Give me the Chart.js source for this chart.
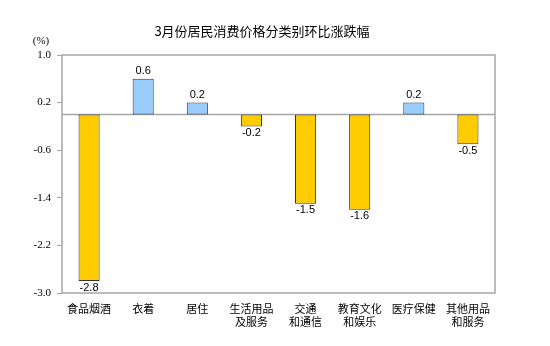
<!DOCTYPE html>
<html>
<head>
<meta charset="utf-8">
<script src="https://cdn.jsdelivr.net/npm/chart.js@4.4.0/dist/chart.umd.min.js"></script>
<style>
  html,body{margin:0;padding:0;background:#fff;}
  #wrap{width:550px;height:346px;position:relative;}
</style>
</head>
<body>
<div id="wrap"><canvas id="myChart" width="550" height="346"></canvas></div>
<script>
//---------- data ----------
const categories=[["食品烟酒"],["衣着"],["居住"],["生活用品","及服务"],["交通","和通信"],["教育文化","和娱乐"],["医疗保健"],["其他用品","和服务"]];
const values=[-2.8,0.6,0.2,-0.2,-1.5,-1.6,0.2,-0.5];
const yTicks=[-3.0,-2.2,-1.4,-0.6,0.2,1.0];
const chartTitle="3月份居民消费价格分类别环比涨跌幅";
const unitLabel="(%)";

const upColor='#99CCFF';
const downColor='#FFCC00';
const cjkFont='"Noto Sans CJK SC", "Noto Sans", sans-serif';

// frame, zero line, title and value labels
const decorPlugin={
  id:'decor',
  beforeDatasetsDraw(chart){
    const {ctx,chartArea,scales}=chart;
    const y0=scales.y.getPixelForValue(0);
    ctx.save();
    ctx.strokeStyle='#a6a6a6';
    ctx.lineWidth=1.5;
    ctx.strokeRect(chartArea.left,chartArea.top,chartArea.right-chartArea.left,chartArea.bottom-chartArea.top);
    ctx.beginPath();
    ctx.moveTo(chartArea.left,y0);
    ctx.lineTo(chartArea.right,y0);
    ctx.stroke();
    ctx.restore();
  },
  afterDraw(chart){
    const {ctx}=chart;
    ctx.save();
    ctx.fillStyle='#000';
    ctx.font='13px '+cjkFont;
    ctx.textAlign='center';
    ctx.textBaseline='middle';
    ctx.fillText(chartTitle,262,31);
    ctx.font='11px "Liberation Serif", serif';
    ctx.fillText(unitLabel,41,41);
    // value labels
    ctx.font='11px "Liberation Sans", Arial, sans-serif';
    const meta=chart.getDatasetMeta(0);
    meta.data.forEach((bar,i)=>{
      const v=values[i];
      const txt=v.toFixed(1);
      if(v>=0){
        ctx.textBaseline='bottom';
        ctx.fillText(txt,bar.x,bar.y-2);
      }else{
        ctx.textBaseline='top';
        ctx.fillText(txt,bar.x,bar.y+1);
      }
    });
    ctx.restore();
  }
};

const ctx=document.getElementById('myChart');
const chart=new Chart(ctx,{
  type:'bar',
  data:{
    labels:categories,
    datasets:[{
      data:values,
      backgroundColor:values.map(v=>v>=0?upColor:downColor),
      borderColor:'#333333',
      borderWidth:1,
      borderSkipped:false,
      barPercentage:0.39,
      categoryPercentage:1
    }]
  },
  options:{
    responsive:false,
    animation:false,
    layout:{padding:{top:55,right:55,left:0,bottom:0}},
    plugins:{legend:{display:false},tooltip:{enabled:false}},
    scales:{
      x:{
        grid:{display:false,drawTicks:false},
        border:{display:false},
        ticks:{color:'#000',font:{family:cjkFont,size:11,lineHeight:1.2},padding:9,maxRotation:0,autoSkip:false},
        afterFit(scale){scale.height=53;}
      },
      y:{
        min:-3,
        max:1,
        afterBuildTicks(scale){scale.ticks=yTicks.map(v=>({value:v}));},
        grid:{drawOnChartArea:false,tickLength:5,color:'#a6a6a6',lineWidth:1},
        border:{display:false},
        ticks:{
          color:'#000',
          padding:6,
          font:{family:'"Liberation Serif", serif',size:11},
          callback:(v)=>Number(v).toFixed(1)
        },
        afterFit(scale){scale.width=62;}
      }
    }
  },
  plugins:[decorPlugin]
});
</script>
</body>
</html>
